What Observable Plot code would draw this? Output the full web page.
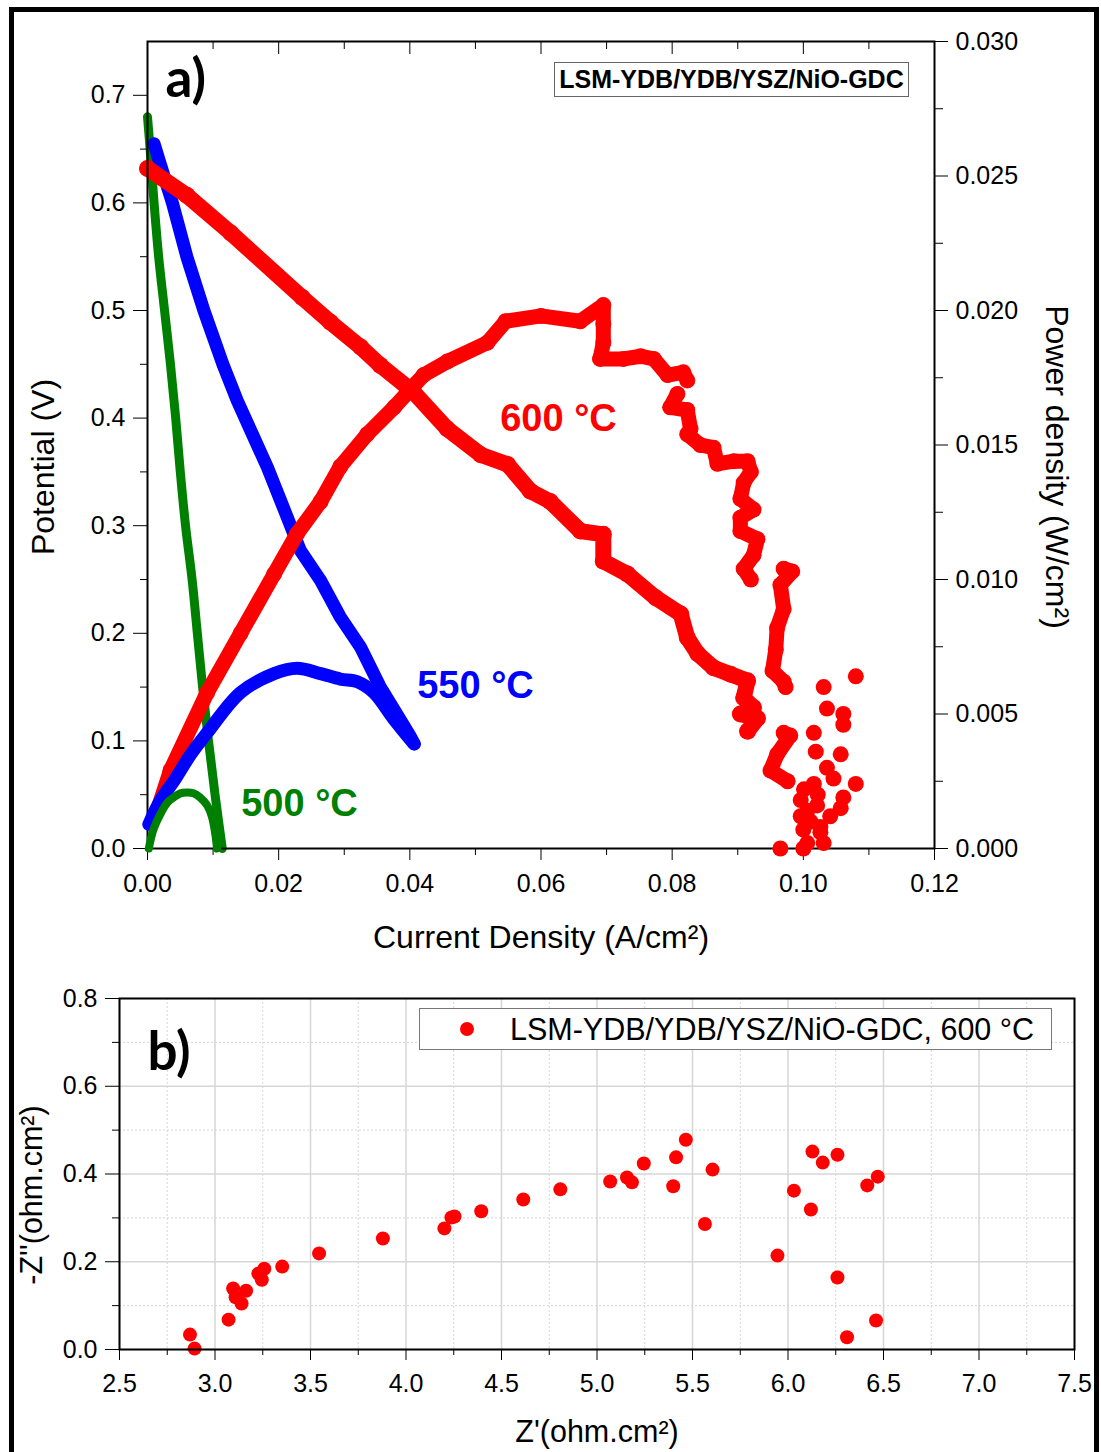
<!DOCTYPE html>
<html>
<head>
<meta charset="utf-8">
<script src="https://cdn.jsdelivr.net/npm/d3@7"></script>
<script src="https://cdn.jsdelivr.net/npm/@observablehq/plot@0.6"></script>
<style>
  html, body { margin: 0; padding: 0; background: #fff; overflow: hidden; }
  #root { position: relative; width: 1101px; height: 1452px; overflow: hidden; background: #fff;
          font-family: "Liberation Sans", Arial, sans-serif; color: #000; }
  #root svg { position: absolute; left: 0; }
  #border { position: absolute; left: 9px; top: 7px; width: 1080px; height: 1500px; border: 5px solid #000; pointer-events: none; }
  #boxA { position: absolute; left: 554px; top: 62px; width: 353px; height: 33px; border: 1.5px solid #666;
          font-weight: bold; font-size: 25px; line-height: 33px; text-align: center; background: #fff; }
  #legB { position: absolute; left: 419px; top: 1008px; width: 631px; height: 40px; border: 1.5px solid #777;
          font-size: 30.5px; line-height: 40px; background: #fff; }
  #legB .dot { position: absolute; left: 40px; top: 13px; width: 14px; height: 14px; border-radius: 50%; background: #ff0000; }
  #legB .txt { position: absolute; left: 90px; top: 0; white-space: nowrap; }
</style>
</head>
<body>
<div id="root">
  <div id="border"></div>
</div>
<script>
// ---------------- Panel a data ----------------
// 500 °C : voltage (V) vs current density (A/cm²)
const green500I = [0, 0.0004, 0.001, 0.0017, 0.0026, 0.0035, 0.0043, 0.0050, 0.0058, 0.0068, 0.0076, 0.0084, 0.0093, 0.0103, 0.0114];
const green500V = [0.68, 0.65, 0.60, 0.55, 0.50, 0.45, 0.40, 0.35, 0.30, 0.25, 0.20, 0.15, 0.10, 0.05, 0.0];
// 500 °C : power density (W/cm²)
const green500PI = [0.0002, 0.0009, 0.002, 0.003, 0.004, 0.005, 0.0061, 0.007, 0.008, 0.0091, 0.0098, 0.0103, 0.0106];
const green500P  = [0, 0.0007, 0.0013, 0.0017, 0.0019, 0.00205, 0.00208, 0.00205, 0.0019, 0.0016, 0.0012, 0.0006, 0.0];

// 550 °C
const blue550I = [0.0010, 0.0020, 0.0038, 0.0060, 0.0086, 0.0115, 0.0137, 0.0160, 0.0183, 0.0213, 0.0233, 0.0264, 0.0294, 0.0325, 0.0355, 0.0386, 0.0400, 0.0407];
const blue550V = [0.655, 0.635, 0.600, 0.550, 0.500, 0.450, 0.416, 0.385, 0.354, 0.308, 0.277, 0.249, 0.215, 0.187, 0.150, 0.119, 0.105, 0.097];
const blue550PI = [0.0002, 0.002, 0.004, 0.0066, 0.0091, 0.0142, 0.0193, 0.0228, 0.0264, 0.0294, 0.032, 0.0345, 0.0376, 0.0406];
const blue550P  = [0.0009, 0.0018, 0.0025, 0.0035, 0.0043, 0.0058, 0.0065, 0.0067, 0.0065, 0.0063, 0.0062, 0.0058, 0.0048, 0.0039];

// 600 °C
const red600I = [0, 0.006, 0.0127, 0.0236, 0.0279, 0.0325, 0.0355, 0.0406, 0.0457, 0.0508, 0.0549, 0.0584, 0.0614, 0.066, 0.0695, 0.0695, 0.0732, 0.0775, 0.0813, 0.0823, 0.0839, 0.0863, 0.0889, 0.0915, 0.0909, 0.0924, 0.0904, 0.093, 0.0915];
const red600V = [0.632, 0.607, 0.572, 0.512, 0.489, 0.466, 0.449, 0.424, 0.39, 0.366, 0.357, 0.332, 0.3225, 0.295, 0.292, 0.267, 0.255, 0.233, 0.218, 0.196, 0.181, 0.168, 0.162, 0.156, 0.14, 0.131, 0.125, 0.121, 0.109];
// power density, segment id 0 = isolated points
const red600PI = [
  0.0015, 0.0035, 0.0091, 0.0142, 0.0193, 0.0228, 0.0264, 0.0294, 0.0335, 0.0376, 0.0421, 0.0457, 0.0518, 0.0546, 0.06, 0.066, 0.0695, 0.0695, 0.0695, 0.069, 0.0726, 0.0752, 0.0772, 0.0793, 0.0817, 0.0823,
  0.0808, 0.0797, 0.0823, 0.0828, 0.0823, 0.0843, 0.0863, 0.0869, 0.0894, 0.0915, 0.092, 0.0909, 0.0904, 0.0924, 0.0904, 0.0904, 0.093, 0.0924, 0.0909, 0.092,
  0.097, 0.0983, 0.0965, 0.097, 0.096, 0.0958, 0.0953, 0.097, 0.0973,
  0.097, 0.098, 0.096, 0.095, 0.0976,
  0.1031, 0.1036, 0.1061, 0.1061, 0.108, 0.1016, 0.1019, 0.1057, 0.1036, 0.1046, 0.108, 0.1016, 0.1061, 0.1057, 0.1041, 0.0996, 0.0996, 0.1, 0.1026, 0.1006, 0.1031, 0.0965, 0.1022, 0.1006, 0.1, 0.1011, 0.1021, 0.1001, 0.1026
];
const red600P = [
  0.0014, 0.0029, 0.0058, 0.0080, 0.0102, 0.0117, 0.0129, 0.0142, 0.0154, 0.0164, 0.0176, 0.0181, 0.0188, 0.0196, 0.0198, 0.0196, 0.0202, 0.0195, 0.0188, 0.0182, 0.0182, 0.0183, 0.0182, 0.0176, 0.0177, 0.0174,
  0.0169, 0.0164, 0.0163, 0.0156, 0.0154, 0.0150, 0.0149, 0.0143, 0.0144, 0.0144, 0.0140, 0.0136, 0.0130, 0.0126, 0.0123, 0.0118, 0.0115, 0.0109, 0.0104, 0.0100,
  0.0104, 0.0103, 0.0098, 0.0089, 0.0082, 0.0074, 0.0066, 0.0062, 0.0060,
  0.0043, 0.0042, 0.0035, 0.0029, 0.0025,
  0.0060, 0.0052, 0.0050, 0.0046, 0.0064, 0.0043, 0.0036, 0.0035, 0.0030, 0.0026, 0.0024, 0.0024, 0.0019, 0.0015, 0.0012, 0.0018, 0.0012, 0.0007, 0.0006, 0.0002, 0.0002, 0.0, 0.0020, 0.0014, 0.0, 0.0010, 0.0016, 0.0022, 0.0008
];
const red600PSeg = [
  1,1,1,1,1,1,1,1,1,1,1,1,1,1,1,1,1,1,1,1,1,1,1,1,1,1,
  2,2,2,2,2,2,2,2,2,2,2,2,2,2,2,2,2,2,2,2,
  3,3,3,3,3,3,3,3,3,
  4,4,4,4,4,
  0,0,0,0,0,0,0,0,0,0,0,0,0,0,0,0,0,0,0,0,0,0,0,0,0,0,0,0,0
];

const seriesLabels = ["500 °C", "550 °C", "600 °C"];
const seriesColors = ["#008000", "#0000ff", "#ff0000"];

const xTicksA = [0, 0.02, 0.04, 0.06, 0.08, 0.10, 0.12];
const xMinorA = [0.01, 0.03, 0.05, 0.07, 0.09, 0.11];
const vTicks  = [0, 0.1, 0.2, 0.3, 0.4, 0.5, 0.6, 0.7];
const vMinor  = [0.05, 0.15, 0.25, 0.35, 0.45, 0.55, 0.65];
const pTicks  = [0, 0.005, 0.010, 0.015, 0.020, 0.025, 0.030];
const pMinor  = [0.0025, 0.0075, 0.0125, 0.0175, 0.0225, 0.0275];

// ---------------- Panel b data ----------------
const zReal = [2.869, 2.893, 3.071, 3.095, 3.108, 3.139, 3.163, 3.227, 3.245, 3.258, 3.352, 3.545, 3.879, 4.201, 4.238, 4.254, 4.394, 4.614,
               4.808, 5.069, 5.157, 5.183, 5.245, 5.399, 5.414, 5.465, 5.565, 5.605, 5.945, 6.031, 6.120, 6.128, 6.182, 6.259, 6.259, 6.309, 6.415, 6.470, 6.461];
const zImag = [0.034, 0.002, 0.068, 0.139, 0.119, 0.105, 0.134, 0.173, 0.159, 0.184, 0.189, 0.219, 0.253, 0.276, 0.301, 0.303, 0.315, 0.342,
               0.365, 0.383, 0.392, 0.381, 0.424, 0.372, 0.438, 0.478, 0.286, 0.410, 0.214, 0.362, 0.319, 0.451, 0.426, 0.444, 0.164, 0.028, 0.374, 0.394, 0.066];
const legendB = "LSM-YDB/YDB/YSZ/NiO-GDC, 600 °C";
const cellLabel = "LSM-YDB/YDB/YSZ/NiO-GDC";
const xTicksB = [2.5, 3.0, 3.5, 4.0, 4.5, 5.0, 5.5, 6.0, 6.5, 7.0, 7.5];
const xMinorB = [2.75, 3.25, 3.75, 4.25, 4.75, 5.25, 5.75, 6.25, 6.75, 7.25];
const yTicksB = [0, 0.2, 0.4, 0.6, 0.8];
const yMinorB = [0.1, 0.3, 0.5, 0.7];

// ---------------- build ----------------
const rows = (xs, ys) => xs.map((x, i) => ({x, y: ys[i]}));
const gV = rows(green500I, green500V), gP = rows(green500PI, green500P);
const bV = rows(blue550I, blue550V),   bP = rows(blue550PI, blue550P);
const rV = rows(red600I, red600V);
const rP = red600PI.map((x, i) => ({x, y: red600P[i], s: red600PSeg[i]}));
const rPline = rP.filter(d => d.s > 0);

const FONT = "Liberation Sans, Arial, sans-serif";
const W = 1101;
const blank = () => "";
const common = {width: W, height: 960, marginLeft: 147, marginRight: 167, marginTop: 41, marginBottom: 112};

const plotA = Plot.plot({
  ...common,
  x: {domain: [0, 0.12], label: null},
  y: {domain: [0, 0.75], label: null},
  style: {fontFamily: FONT, fontSize: "25px", color: "#000", background: "#fff", overflow: "visible"},
  marks: [
    Plot.line(gV, {x: "x", y: "y", stroke: seriesColors[0], strokeWidth: 9, strokeLinecap: "round", strokeLinejoin: "round", curve: "catmull-rom"}),
    Plot.line(bV, {x: "x", y: "y", stroke: seriesColors[1], strokeWidth: 13, strokeLinecap: "round", strokeLinejoin: "round"}),
    Plot.line(rV, {x: "x", y: "y", stroke: seriesColors[2], strokeWidth: 16, strokeLinecap: "round", strokeLinejoin: "round"}),
    Plot.dot(rV, {x: "x", y: "y", fill: seriesColors[2], r: 8.5}),
    Plot.axisX({ticks: xTicksA, tickSize: 12, tickPadding: 14, tickFormat: d3.format(".2f"), label: null}),
    Plot.axisX({ticks: xMinorA, tickSize: 7, tickFormat: blank, label: null}),
    Plot.axisX({anchor: "top", ticks: xTicksA, tickSize: -12, tickFormat: blank, label: null}),
    Plot.axisX({anchor: "top", ticks: xMinorA, tickSize: -7, tickFormat: blank, label: null}),
    Plot.axisY({ticks: vTicks, tickSize: 14, tickPadding: 8, tickFormat: d3.format(".1f"), label: null}),
    Plot.axisY({ticks: vMinor, tickSize: 7, tickFormat: blank, label: null}),
    Plot.frame({stroke: "#000", strokeWidth: 2}),
    Plot.text(["Potential (V)"], {frameAnchor: "left", dx: -104, dy: 22, rotate: -90, fontSize: 32, lineAnchor: "middle", textAnchor: "middle"}),
    Plot.text(["Current Density (A/cm²)"], {frameAnchor: "bottom", dy: 89, fontSize: 32, lineAnchor: "middle", textAnchor: "middle"}),
    Plot.text(["a)"], {frameAnchor: "top-left", dx: 18, dy: 55, lineAnchor: "bottom", textAnchor: "start", fontSize: 53, fontWeight: "bold", fontFamily: "Lato"}),
    Plot.text([seriesLabels[2]], {frameAnchor: "top-left", dx: 411, dy: 377, fontSize: 38, fontWeight: "bold", fill: seriesColors[2], lineAnchor: "middle", textAnchor: "middle"}),
    Plot.text([seriesLabels[1]], {frameAnchor: "top-left", dx: 328, dy: 644, fontSize: 38, fontWeight: "bold", fill: seriesColors[1], lineAnchor: "middle", textAnchor: "middle"}),
    Plot.text([seriesLabels[0]], {frameAnchor: "top-left", dx: 152, dy: 762, fontSize: 38, fontWeight: "bold", fill: seriesColors[0], lineAnchor: "middle", textAnchor: "middle"})
  ]
});

const plotP = Plot.plot({
  ...common,
  x: {domain: [0, 0.12], axis: null},
  y: {domain: [0, 0.03], label: null},
  style: {fontFamily: FONT, fontSize: "25px", color: "#000", background: "transparent", overflow: "visible"},
  marks: [
    Plot.line(rPline, {x: "x", y: "y", z: "s", stroke: seriesColors[2], strokeWidth: 15, strokeLinecap: "round", strokeLinejoin: "round"}),
    Plot.dot(rP, {x: "x", y: "y", fill: seriesColors[2], r: 8}),
    Plot.line(bP, {x: "x", y: "y", stroke: seriesColors[1], strokeWidth: 13, strokeLinecap: "round", strokeLinejoin: "round", curve: "catmull-rom"}),
    Plot.line(gP, {x: "x", y: "y", stroke: seriesColors[0], strokeWidth: 8, strokeLinecap: "round", strokeLinejoin: "round", curve: "catmull-rom"}),
    Plot.axisY({anchor: "right", ticks: pTicks, tickSize: 13, tickPadding: 8, tickFormat: d3.format(".3f"), label: null}),
    Plot.axisY({anchor: "right", ticks: pMinor, tickSize: 8, tickFormat: blank, label: null}),
    Plot.text(["Power density (W/cm²)"], {frameAnchor: "right", dx: 122, dy: 22, rotate: 90, fontSize: 32, lineAnchor: "middle", textAnchor: "middle"})
  ]
});

const plotB = Plot.plot({
  width: W, height: 492, marginLeft: 119, marginRight: 27, marginTop: 38, marginBottom: 103,
  x: {domain: [2.5, 7.5], label: null},
  y: {domain: [0, 0.8], label: null},
  style: {fontFamily: FONT, fontSize: "25px", color: "#000", background: "transparent", overflow: "visible"},
  marks: [
    Plot.gridX({ticks: xMinorB, stroke: "#d6d6d6", strokeOpacity: 1, strokeWidth: 1, strokeDasharray: "2,2"}),
    Plot.gridY({ticks: yMinorB, stroke: "#d6d6d6", strokeOpacity: 1, strokeWidth: 1, strokeDasharray: "2,2"}),
    Plot.gridX({ticks: xTicksB, stroke: "#d6d6d6", strokeOpacity: 1, strokeWidth: 1.5}),
    Plot.gridY({ticks: yTicksB, stroke: "#d6d6d6", strokeOpacity: 1, strokeWidth: 1.5}),
    Plot.dot(rows(zReal, zImag), {x: "x", y: "y", fill: "#ff0000", r: 7}),
    Plot.axisX({ticks: xTicksB, tickSize: 11, tickPadding: 14, tickFormat: d3.format(".1f"), label: null}),
    Plot.axisX({ticks: xMinorB, tickSize: 6, tickFormat: blank, label: null}),
    Plot.axisY({ticks: yTicksB, tickSize: 14, tickPadding: 8, tickFormat: d3.format(".1f"), label: null}),
    Plot.axisY({ticks: yMinorB, tickSize: 7, tickFormat: blank, label: null}),
    Plot.frame({stroke: "#000", strokeWidth: 2}),
    Plot.text(["-Z''(ohm.cm²)"], {frameAnchor: "left", dx: -87, dy: 21, rotate: -90, fontSize: 30.5, lineAnchor: "middle", textAnchor: "middle"}),
    Plot.text(["Z'(ohm.cm²)"], {frameAnchor: "bottom", dy: 83, fontSize: 30.5, lineAnchor: "middle", textAnchor: "middle"}),
    Plot.text(["b)"], {frameAnchor: "top-left", dx: 28, dy: 71, lineAnchor: "bottom", textAnchor: "start", fontSize: 53, fontWeight: "bold", fontFamily: "Lato"})
  ]
});

const root = document.getElementById("root");
const border = document.getElementById("border");
plotA.style.top = "0px";
plotP.style.top = "0px";
plotB.style.top = "960px";
root.insertBefore(plotA, border);
root.insertBefore(plotP, border);
root.insertBefore(plotB, border);

const boxA = document.createElement("div");
boxA.id = "boxA";
boxA.textContent = cellLabel;
root.appendChild(boxA);

const legB = document.createElement("div");
legB.id = "legB";
legB.innerHTML = '<span class="dot"></span><span class="txt"></span>';
legB.querySelector(".txt").textContent = legendB;
root.appendChild(legB);
</script>
</body>
</html>
